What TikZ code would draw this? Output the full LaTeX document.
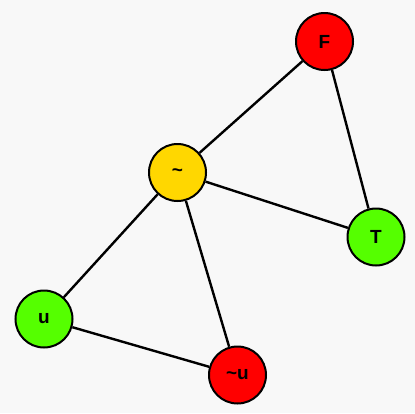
\documentclass[tikz,border=0pt]{standalone}
\usepackage{fontspec}
\setmainfont{Liberation Sans}
\definecolor{bg}{HTML}{F8F8F8}
\definecolor{nred}{HTML}{FF0000}
\definecolor{ngold}{HTML}{FFD700}
\definecolor{ngreen}{HTML}{55FF00}
\begin{document}
\begin{tikzpicture}[x=1pt,y=-1pt,
  vert/.style={circle,draw=black,line width=2pt,minimum size=57pt,inner sep=0pt,font=\bfseries\fontsize{19}{21}\selectfont},
  edge/.style={line width=2.4pt,draw=black}]
\fill[bg] (0,0) rectangle (415,413);
\useasboundingbox (0,0) rectangle (415,413);
\node[vert,fill=nred] (F) at (324.5,41.5) {F};
\node[vert,fill=ngold] (N) at (177.5,172.5) {\raisebox{0.5pt}{\char`\~}};
\node[vert,fill=ngreen] (T) at (376,237) {T};
\node[vert,fill=ngreen] (u) at (44,319) {u};
\node[vert,fill=nred] (Nu) at (237.5,375) {\char`\~u};
\draw[edge] (F) -- (N);
\draw[edge] (F) -- (T);
\draw[edge] (N) -- (T);
\draw[edge] (N) -- (u);
\draw[edge] (N) -- (Nu);
\draw[edge] (u) -- (Nu);
\end{tikzpicture}
\end{document}
